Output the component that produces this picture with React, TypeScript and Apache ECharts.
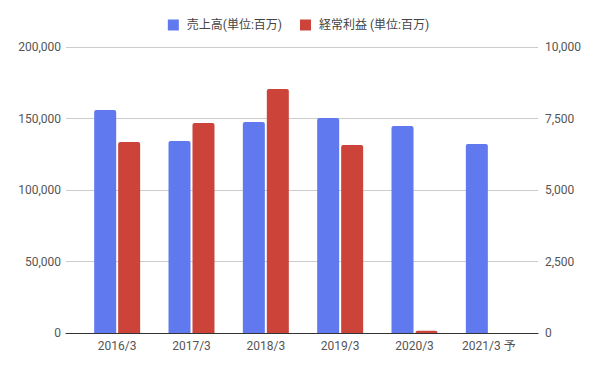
import React, { useEffect, useRef } from "react";
import * as echarts from "echarts";

const categories = ["2016/3", "2017/3", "2018/3", "2019/3", "2020/3", "2021/3 予"];
const salesName = "売上高(単位:百万)";
const profitName = "経常利益 (単位:百万)";
const sales = [156000, 134300, 147600, 150400, 144800, 132200];
const profit: (number | string)[] = [6680, 7340, 8530, 6570, 80, "-"];
const leftTicks = { min: 0, max: 200000, interval: 50000 };
const rightTicks = { min: 0, max: 10000, interval: 2500 };

const FONT = "Roboto, 'Noto Sans CJK JP', sans-serif";
const fmt = (v: number) => v.toLocaleString("en-US");

export default function App() {
  const ref = useRef<HTMLDivElement>(null);
  useEffect(() => {
    if (!ref.current) return;
    const chart = echarts.init(ref.current, undefined, { renderer: "svg" });
    chart.setOption({
      animation: false,
      textStyle: { fontFamily: FONT },
      legend: {
        top: 14,
        left: "center",
        icon: "rect",
        itemWidth: 11,
        itemHeight: 11,
        itemGap: 18,
        textStyle: { fontSize: 12, color: "#444", fontFamily: FONT, padding: [0, 0, 0, 3] },
        data: [salesName, profitName],
      },
      grid: [
        { left: 66, right: 59, top: 47, bottom: 36 },
        { left: 80, right: 71, top: 47, bottom: 36 },
      ],
      xAxis: [
        {
          gridIndex: 0,
          type: "value",
          min: 0,
          max: 1,
          axisLine: { show: true, lineStyle: { color: "#333", width: 1 } },
          axisTick: { show: false },
          axisLabel: { show: false },
          splitLine: { show: false },
        },
        {
          gridIndex: 1,
          type: "category",
          data: categories,
          axisLine: { show: false },
          axisTick: { show: false },
          axisLabel: { color: "#555", fontSize: 12, margin: 7, fontFamily: FONT },
        },
      ],
      yAxis: [
        {
          gridIndex: 0,
          type: "value",
          position: "left",
          ...leftTicks,
          axisLine: { show: false },
          axisTick: { show: false },
          axisLabel: { color: "#555", fontSize: 12, margin: 5, formatter: fmt, fontFamily: FONT },
          splitLine: { lineStyle: { color: "#cccccc" } },
        },
        {
          gridIndex: 0,
          type: "value",
          position: "right",
          ...rightTicks,
          axisLine: { show: false },
          axisTick: { show: false },
          axisLabel: { color: "#555", fontSize: 12, margin: 7, formatter: fmt, fontFamily: FONT },
          splitLine: { show: false },
        },
        { gridIndex: 1, type: "value", ...leftTicks, show: false, splitLine: { show: false } },
        { gridIndex: 1, type: "value", ...rightTicks, show: false, splitLine: { show: false } },
      ],
      series: [
        {
          name: salesName,
          type: "bar",
          xAxisIndex: 1,
          yAxisIndex: 2,
          data: sales,
          barWidth: 22,
          barGap: "9%",
          itemStyle: { color: "#6079ef", borderRadius: [2, 2, 0, 0] },
        },
        {
          name: profitName,
          type: "bar",
          xAxisIndex: 1,
          yAxisIndex: 3,
          data: profit,
          barWidth: 22,
          barGap: "9%",
          itemStyle: { color: "#cc4439", borderRadius: [2, 2, 0, 0] },
        },
      ],
    });
    return () => chart.dispose();
  }, []);
  return <div ref={ref} style={{ width: 597, height: 369, position: "absolute", left: 0, top: 0 }} />;
}
